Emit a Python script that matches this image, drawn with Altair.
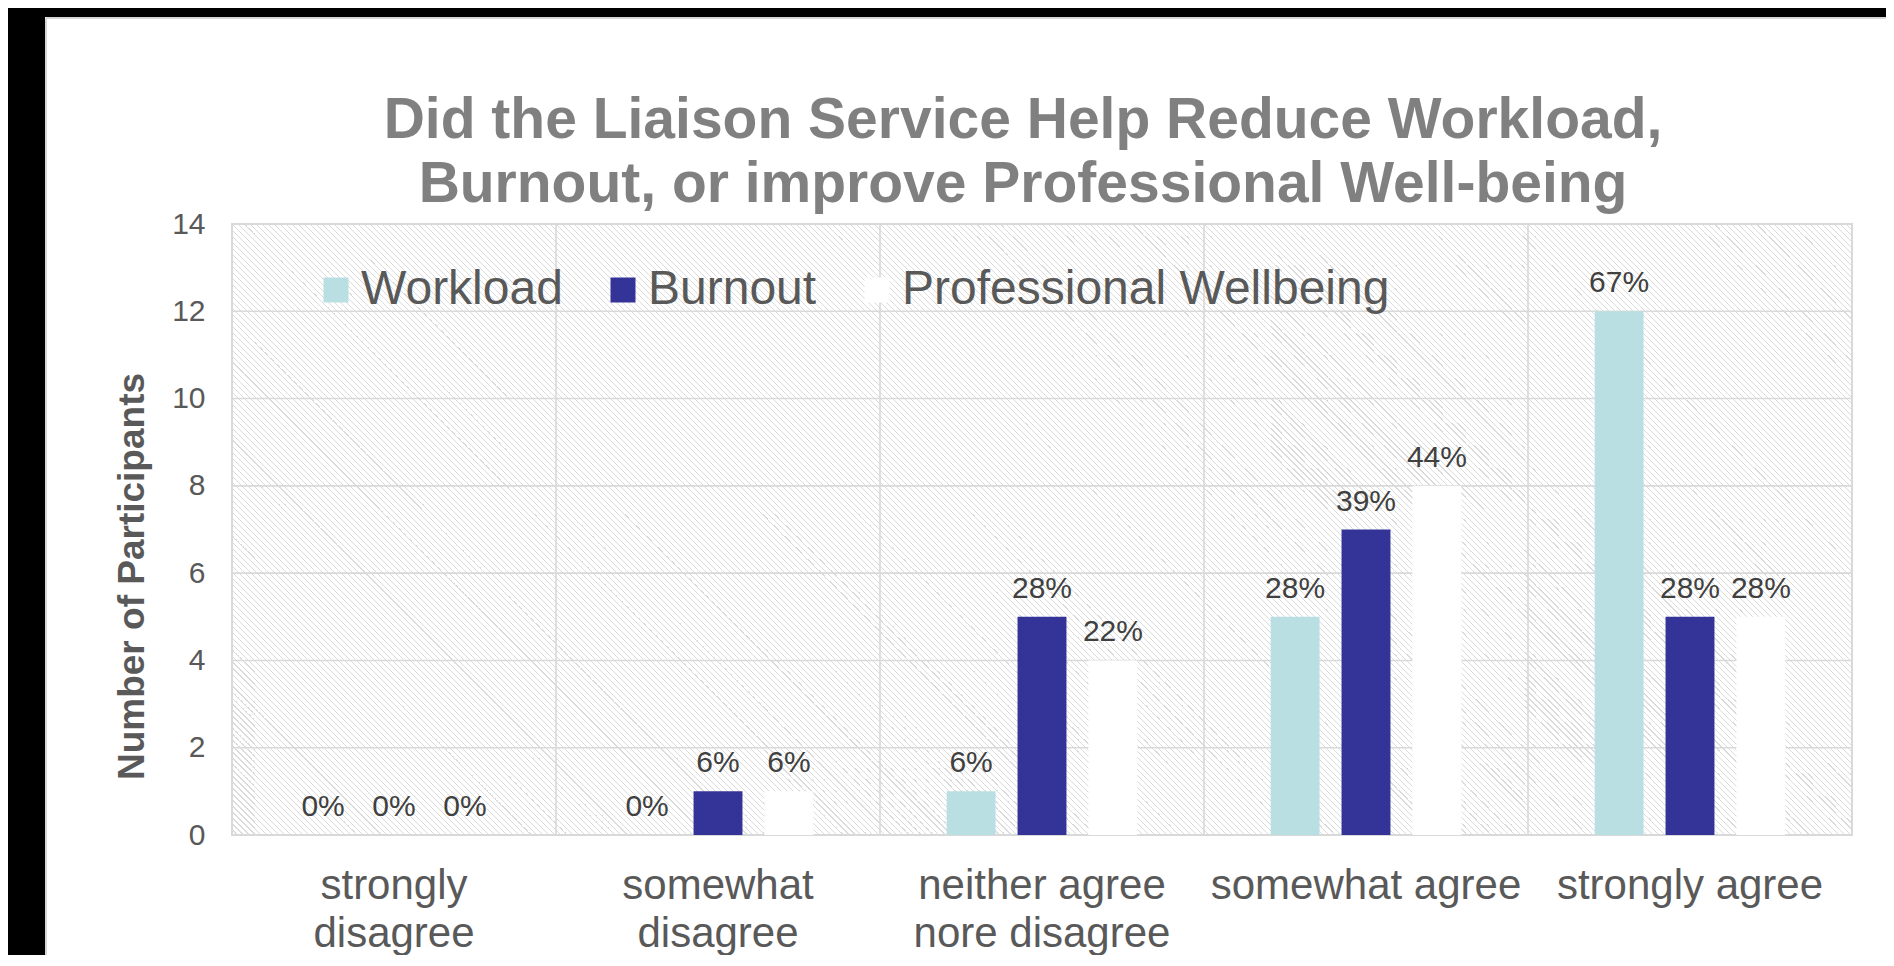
import altair as alt
import pandas as pd

# ---------------- data ----------------
categories = ["strongly\ndisagree", "somewhat\ndisagree", "neither agree\nnore disagree",
              "somewhat agree", "strongly agree"]
series = ["Workload", "Burnout", "Professional Wellbeing"]
colors = ["#b9dfe2", "#343397", "#ffffff"]

workload = [0, 0, 1, 5, 12]
burnout = [0, 1, 5, 7, 5]
wellbeing = [0, 1, 4, 8, 5]

workload_pct = ["0%", "0%", "6%", "28%", "67%"]
burnout_pct = ["0%", "6%", "28%", "39%", "28%"]
wellbeing_pct = ["0%", "6%", "22%", "44%", "28%"]

y_ticks = [0, 2, 4, 6, 8, 10, 12, 14]

title_lines = ["Did the Liaison Service Help Reduce Workload,",
               "Burnout, or improve Professional Well-being"]
y_title = "Number of Participants"

# ---------------- build tables ----------------
rows = []
for s, vals, pcts in zip(series, [workload, burnout, wellbeing],
                         [workload_pct, burnout_pct, wellbeing_pct]):
    for c, v, p in zip(categories, vals, pcts):
        rows.append({"category": c, "series": s, "value": v, "pct": p})
bars_df = pd.DataFrame(rows)
cat_df = pd.DataFrame({"category": categories})
tick_df = pd.DataFrame({"tick": y_ticks})
one = pd.DataFrame({"k": [0]})

W, H = 1620, 611
FONT = "Liberation Sans"
TXT = "#595959"
GRID = "#d9d9d9"

# hatch gradient (diagonal stripes, lines running top-left -> bottom-right)
P = W + H
period, stripe = 6.0, 1.6
stops = []
k = 0
while k * period < P:
    a = k * period
    for off, col in [(a, "#ffffff"), (a + period - stripe, "#ffffff"),
                     (a + period - stripe, "#dbdbdb"), (a + period, "#dbdbdb")]:
        stops.append(alt.GradientStop(offset=min(off / P, 1.0), color=col))
    k += 1
r = H / W
s = (1 + r) / (1 + r * r)
hatch = alt.LinearGradient(gradient="linear", stops=stops,
                           x1=0, y1=1, x2=s, y2=1 - s * r)

x_scale = alt.Scale(domain=categories, paddingInner=0, paddingOuter=0)
y_scale = alt.Scale(domain=[0, 14], nice=False)

x_axis = alt.Axis(title=None, labelAngle=0, domain=False, ticks=False, grid=False,
                  labelFontSize=42, labelColor=TXT, labelFont=FONT, labelPadding=30,
                  labelLineHeight=48, labelLimit=0,
                  labelExpr="split(datum.value, '\\n')")
y_axis = alt.Axis(title=y_title, values=y_ticks, domain=False, ticks=False, grid=False,
                  labelFontSize=30, labelColor=TXT, labelFont=FONT, labelPadding=27,
                  titleFontSize=37, titleFontWeight="bold", titleColor=TXT, titleFont=FONT,
                  titleX=-100, titleY=352, titleAngle=270, titleAlign="center",
                  titleBaseline="middle")

X = alt.X("category:N", scale=x_scale, axis=x_axis, sort=categories)
Y = alt.Y("value:Q", scale=y_scale, axis=y_axis)

# frame of the slide (black strip top / left)
frame_left = alt.Chart(one).mark_rect(color="black").encode(
    x=alt.value(-230), x2=alt.value(-187), y=alt.value(-216), y2=alt.value(900))
frame_top = alt.Chart(one).mark_rect(color="black").encode(
    x=alt.value(-230), x2=alt.value(1800), y=alt.value(-216), y2=alt.value(-207))
edge_v = alt.Chart(one).mark_rule(color="#d6d6d6", strokeWidth=2).encode(
    x=alt.value(-186), y=alt.value(-206), y2=alt.value(900))
edge_h = alt.Chart(one).mark_rule(color="#d6d6d6", strokeWidth=2).encode(
    x=alt.value(-186), x2=alt.value(1800), y=alt.value(-206))

# chart title (two lines)
title = alt.Chart(one).mark_text(text=title_lines, fontSize=57, font=FONT, fontWeight="bold",
                                 color="#808080", align="center", baseline="top",
                                 lineHeight=64).encode(
    x=alt.value(W / 2 - 19), y=alt.value(-131))

bg = alt.Chart(one).mark_rect(fill=hatch).encode(
    x=alt.value(0), x2=alt.value(W), y=alt.value(0), y2=alt.value(H))

vgrid = alt.Chart(cat_df).mark_rule(color=GRID, strokeWidth=1.6).encode(
    x=alt.X("category:N", scale=x_scale, axis=x_axis, sort=categories, bandPosition=0))
hgrid = alt.Chart(tick_df).mark_rule(color=GRID, strokeWidth=1.6).encode(
    y=alt.Y("tick:Q", scale=y_scale, axis=y_axis))

border = alt.Chart(one).mark_rect(fill="white", fillOpacity=0, stroke=GRID, strokeWidth=2).encode(
    x=alt.value(0), x2=alt.value(W), y=alt.value(0), y2=alt.value(H))

xoff = alt.XOffset("series:N", sort=series,
                   scale=alt.Scale(domain=series, paddingInner=0.31, paddingOuter=0.94))

bars = alt.Chart(bars_df).mark_bar().encode(
    x=X, xOffset=xoff, y=Y,
    color=alt.Color("series:N", sort=series,
                    scale=alt.Scale(domain=series, range=colors),
                    legend=alt.Legend(title=None, orient="none", direction="horizontal",
                                      legendX=80, legendY=42,
                                      symbolType="square", symbolSize=625,
                                      symbolStrokeWidth=0, labelFontSize=48,
                                      labelFont=FONT, labelColor=TXT, labelOffset=1,
                                      columnPadding=36, labelLimit=0)))

labels = alt.Chart(bars_df).mark_text(baseline="alphabetic", dy=-19, fontSize=30,
                                      font=FONT, color="#404040").encode(
    x=X, xOffset=xoff, y=Y, text="pct:N")

chart = alt.layer(frame_left, frame_top, edge_v, edge_h, title, bg, vgrid, hgrid, border,
                  bars, labels).properties(
    width=W, height=H,
    autosize=alt.AutoSizeParams(type="none"),
    padding={"left": 224, "top": 216, "right": 34, "bottom": 120},
    background="white",
).configure_view(strokeWidth=0)

chart.save("out.html", embed_options={"renderer": "svg", "actions": False})
